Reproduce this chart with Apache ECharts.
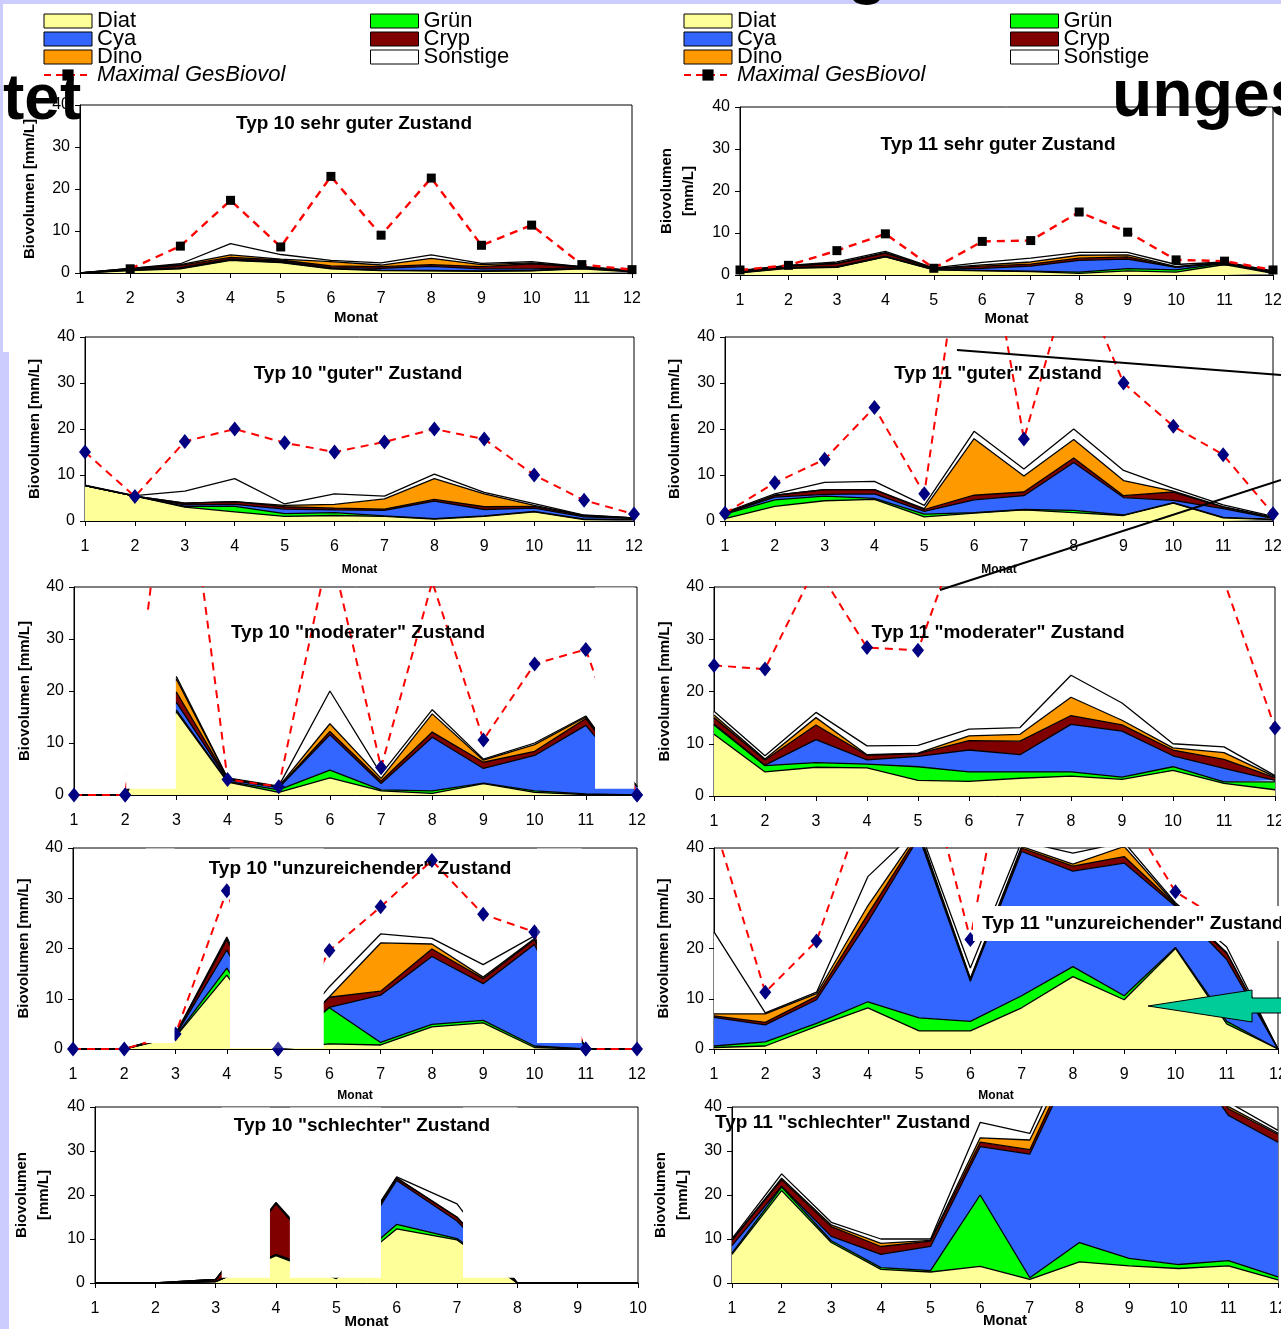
<!DOCTYPE html>
<html><head><meta charset="utf-8">
<script src="https://cdn.jsdelivr.net/npm/echarts@6/dist/echarts.min.js"></script>
<style>html,body{margin:0;padding:0;background:#fff}#c{width:1281px;height:1329px}</style>
</head><body><div id="c"></div>
<script>
// ---------- DATA ----------
const months12 = ['1','2','3','4','5','6','7','8','9','10','11','12'];
const months10 = ['1','2','3','4','5','6','7','8','9','10'];
const groupNames = ['Diat','Grün','Cya','Cryp','Dino','Sonstige'];
const maxName = 'Maximal GesBiovol';

// Typ 10 sehr guter Zustand
const A_diat  = [0,0.6,1.0,3.0,2.5,1.0,0.6,0.5,0.4,0.5,1.0,0.3];
const A_gruen = [0,0.1,0.1,0.1,0.1,0.1,0.1,0.1,0.1,0.1,0.1,0.1];
const A_cya   = [0,0.1,0.2,0.2,0.2,0.2,0.4,1.0,0.5,0.4,0.1,0.1];
const A_cryp  = [0,0.2,0.5,0.4,0.3,0.4,0.4,0.4,0.5,1.2,0.2,0.1];
const A_dino  = [0,0.1,0.2,0.6,0.2,1.0,0.4,1.5,0.5,0.2,0.1,0];
const A_sonst = [0,0,0.2,2.7,1.1,0.3,0.5,0.8,0.3,0.3,0,0];
const A_max   = [null,1.0,6.4,17.3,6.2,23.0,9.0,22.6,6.6,11.4,2.0,0.8];

// Typ 11 sehr guter Zustand
const B_diat  = [0.5,1.6,1.8,4.3,1.2,1.0,0.8,0.4,1.0,0.7,2.5,0.4];
const B_gruen = [0.1,0.1,0.1,0.1,0.1,0.1,0.1,0.3,0.5,0.5,0.3,0.1];
const B_cya   = [0.1,0.1,0.1,0.1,0.1,0.5,1.2,2.8,2.3,0.6,0.1,0.1];
const B_cryp  = [0.3,0.4,0.7,0.7,0.2,0.5,0.5,0.5,0.5,0.1,0.1,0.2];
const B_dino  = [0,0,0.1,0.1,0,0.3,0.5,0.7,0.5,0.1,0,0];
const B_sonst = [0.1,0.1,0.3,0.3,0.1,0.6,0.9,0.7,0.6,0.5,0.1,0.2];
const B_max   = [1.2,2.3,5.8,9.8,1.6,8.0,8.2,15.0,10.2,3.6,3.3,1.2];

// Typ 10 "guter" Zustand
const C_diat  = [7.7,5.4,3.0,2.0,1.0,1.2,1.0,0.4,1.0,2.0,0.3,0.3];
const C_gruen = [0,0,0.2,1.2,0.6,0.6,0.1,0.1,0.1,0.1,0.1,0.1];
const C_cya   = [0,0,0.3,0.4,1.0,0.6,1.2,3.8,1.4,0.7,0.5,0.2];
const C_cryp  = [0,0,0.4,0.6,0.5,0.4,0.3,0.4,0.6,0.4,0.2,0.1];
const C_dino  = [0,0,0,0,0.3,0.8,2.2,4.5,2.8,0.2,0.1,0];
const C_sonst = [0.1,0.1,2.6,5.0,0.3,2.3,0.6,1.0,0.3,0.4,0.1,0];
const C_max   = [15.0,5.3,17.3,20.0,17.0,15.0,17.2,20.0,17.8,10.0,4.5,1.5];

// Typ 11 "guter" Zustand
const D_diat  = [0.5,3.2,4.4,4.7,0.9,1.7,2.4,1.8,1.2,3.9,0.7,0.3];
const D_gruen = [1.0,1.4,1.0,0.2,0.6,0.1,0.1,0.5,0.1,0.1,0.1,0.1];
const D_cya   = [0.1,0.6,0.4,1.0,0.6,2.8,3.0,10.4,3.8,0.5,1.9,0.2];
const D_cryp  = [0.1,0.4,1.0,0.9,0.4,1.0,0.8,1.0,0.4,1.8,0.3,0.2];
const D_dino  = [0,0,0,0,0.2,12.3,3.5,4.0,3.3,0.2,0.1,0];
const D_sonst = [0.2,0.3,1.6,1.8,0.7,1.6,1.5,2.3,2.2,0.6,0.4,0.2];
const D_max   = [1.7,8.3,13.4,24.7,5.9,80,17.8,56,30.0,20.6,14.4,1.6];

// Typ 10 "moderater" Zustand
const E_diat  = [0,0,16.0,2.5,0.5,3.3,0.8,0.3,2.2,0.5,0.1,0];
const E_gruen = [0,0,0.3,0.1,0.5,1.5,0.2,0.5,0.1,0.3,0.1,0];
const E_cya   = [0,0,1.5,0.3,0.4,6.8,1.2,10.3,2.8,6.8,13.2,1.6];
const E_cryp  = [0,0,2.0,0.2,0.1,0.6,0.5,1.0,1.2,0.8,1.3,0];
const E_dino  = [0,0,2.5,0.1,0.1,1.5,0.5,3.5,0.4,1.3,0.3,0];
const E_sonst = [0,0,0.5,0.1,0.1,6.3,0.8,0.8,0.2,0.3,0.2,0];
const E_max   = [0,0,80,3.0,1.6,48,5.3,41,10.6,25.2,28,0];

// Typ 11 "moderater" Zustand
const F_diat  = [11.8,4.6,5.5,5.4,3.0,2.8,3.4,3.8,3.2,4.9,2.4,1.2];
const F_gruen = [1.8,1.2,0.9,0.7,2.6,1.8,1.2,0.8,0.4,0.7,0.3,1.5];
const F_cya   = [0.2,0.1,4.4,0.8,2.0,4.2,3.3,9.1,8.8,2.1,2.6,0.3];
const F_cryp  = [1.2,1.0,2.8,0.9,0.5,1.8,2.6,1.7,1.2,1.1,1.7,0.5];
const F_dino  = [0.5,0.2,1.4,0.1,0.1,0.9,1.3,3.5,0.9,0.4,1.3,0.2];
const F_sonst = [0.7,0.6,1.0,1.7,1.5,1.3,1.3,4.2,3.3,0.8,1.1,0.2];
const F_max   = [25.0,24.3,44,28.4,27.9,55,50,60,50,40.9,41.2,13.0];

// Typ 10 "unzureichender" Zustand
const G_diat  = [0,0,2.4,14.7,0,1.0,0.8,4.4,5.2,0.3,0,0];
const G_gruen = [0,0,0.1,1.4,0,7.2,0.5,0.5,0.5,0.3,0,0];
const G_cya   = [0,0,0.2,3.6,0,0.1,9.4,13.5,7.3,20.2,0,0];
const G_cryp  = [0,0,0.1,2.1,0,2.0,0.8,1.5,1.0,1.0,0,0];
const G_dino  = [0,0,0.1,0.2,0,0.1,9.6,1.0,0.3,0.2,0,0];
const G_sonst = [0,0,0.1,0.3,0,2.0,1.8,1.1,2.5,0.5,0,0];
const G_max   = [0,0,3.0,31.5,0,19.6,28.3,37.5,26.8,23.3,0,0];

// Typ 11 "unzureichender" Zustand
const H_diat  = [0.3,0.6,4.5,8.2,3.6,3.6,8.2,14.4,9.8,20.0,5.0,0];
const H_gruen = [0.3,0.8,0.6,1.2,2.6,1.9,2.4,2.0,0.8,0.2,0.5,0];
const H_cya   = [5.7,3.4,4.7,15.9,36,8.0,28.7,19.0,26.4,8.2,12.3,0];
const H_cryp  = [0.3,0.5,0.7,1.5,0.6,0.4,0.7,1.0,1.3,0.3,1.2,0];
const H_dino  = [0.4,1.7,0.5,1.7,0.5,0.2,0.3,0.4,2.0,0.1,0.2,0];
const H_sonst = [16.3,0.2,0.3,5.8,0.7,2.0,1.0,2.2,0.8,0.3,1.1,0];
const H_max   = [45,11.3,21.5,51,62,21.8,77,70,48,31.3,25,null];

// Typ 10 "schlechter" Zustand (months 1-10)
const I_diat  = [0,0,0.3,6.2,1.0,12.3,9.8,0,0,0];
const I_gruen = [0,0,0,0.2,0.5,1.0,0.3,0,0,0];
const I_cya   = [0,0,0,0.1,0.3,10.0,4.0,0,0,0];
const I_cryp  = [0,0,0.5,11.5,0.5,0.5,0.8,0,0,0];
const I_dino  = [0,0,0,0.1,0.2,0.1,0.1,0,0,0];
const I_sonst = [0,0,0,0.2,0.5,0.2,3.0,0,0,0];

// Typ 11 "schlechter" Zustand
const J_diat  = [6.5,21,9.2,3.1,2.5,3.8,0.8,4.8,3.9,3.3,3.9,0.7];
const J_gruen = [0.3,0.8,0.4,0.4,0.3,16.2,0.4,4.4,1.7,0.9,1.2,0.7];
const J_cya   = [1.7,0.2,1.0,3.0,5.5,11.0,28.1,44,48,50,33,30.6];
const J_cryp  = [1.2,1.5,2.2,1.8,1.2,1.0,1.0,1.5,1.5,1.5,1.5,1.8];
const J_dino  = [0.1,0.3,0.4,0.7,0.2,1.0,2.2,1.0,1.0,1.0,0.5,0.3];
const J_sonst = [0.3,1.0,0.6,1.0,0.3,3.5,1.5,3,3,3,1,0.6];

// ---------- PANELS ----------
const panels = [
 {id:'A', title:'Typ 10 sehr guter Zustand', months:months12, layers:[A_diat,A_gruen,A_cya,A_cryp,A_dino,A_sonst], max:A_max, marker:'square'},
 {id:'B', title:'Typ 11 sehr guter Zustand', months:months12, layers:[B_diat,B_gruen,B_cya,B_cryp,B_dino,B_sonst], max:B_max, marker:'square'},
 {id:'C', title:'Typ 10 "guter" Zustand', months:months12, layers:[C_diat,C_gruen,C_cya,C_cryp,C_dino,C_sonst], max:C_max, marker:'diamond'},
 {id:'D', title:'Typ 11 "guter" Zustand', months:months12, layers:[D_diat,D_gruen,D_cya,D_cryp,D_dino,D_sonst], max:D_max, marker:'diamond'},
 {id:'E', title:'Typ 10 "moderater" Zustand', months:months12, layers:[E_diat,E_gruen,E_cya,E_cryp,E_dino,E_sonst], max:E_max, marker:'diamond', pins:['2','12']},
 {id:'F', title:'Typ 11 "moderater" Zustand', months:months12, layers:[F_diat,F_gruen,F_cya,F_cryp,F_dino,F_sonst], max:F_max, marker:'diamond'},
 {id:'G', title:'Typ 10 "unzureichender" Zustand', months:months12, layers:[G_diat,G_gruen,G_cya,G_cryp,G_dino,G_sonst], max:G_max, marker:'diamond', pins:['5','10','11']},
 {id:'H', title:'Typ 11 "unzureichender" Zustand', months:months12, layers:[H_diat,H_gruen,H_cya,H_cryp,H_dino,H_sonst], max:H_max, marker:'diamond'},
 {id:'I', title:'Typ 10 "schlechter" Zustand', months:months10, layers:[I_diat,I_gruen,I_cya,I_cryp,I_dino,I_sonst], max:null},
 {id:'J', title:'Typ 11 "schlechter" Zustand', months:months12, layers:[J_diat,J_gruen,J_cya,J_cryp,J_dino,J_sonst], max:null}
];

// ---------- LAYOUT / STYLE ----------
const FONT = '"Liberation Sans", Arial, sans-serif';
const fills = ['#ffff99','#00ff00','#3366ff','#800000','#ff9900','#ffffff'];
const yOne = 'Biovolumen [mm/L]';
const yTwo = 'Biovolumen\n[mm/L]';
const layout = {
 A:{left:80, top:105, width:552, height:168, yName:yOne, yGap:39, xName:true, xGap:37, xSize:15, tx:354, ty:114},
 B:{left:740, top:107, width:533, height:168, yName:yTwo, yGap:40, xName:true, xGap:36, xSize:15, tx:998, ty:135},
 C:{left:85, top:337, width:549, height:184, yName:yOne, yGap:39, xName:true, xGap:43, xSize:12, tx:358, ty:364},
 D:{left:725, top:337, width:548, height:184, yName:yOne, yGap:39, xName:true, xGap:43, xSize:12, tx:998, ty:364},
 E:{left:74, top:587, width:563, height:208, yName:yOne, yGap:38, xName:false, tx:358, ty:623},
 F:{left:714, top:587, width:561, height:209, yName:yOne, yGap:38, xName:false, tx:998, ty:623},
 G:{left:73, top:848, width:564, height:201, yName:yOne, yGap:38, xName:true, xGap:41, xSize:12, tx:360, ty:859},
 H:{left:714, top:848, width:564, height:201, yName:yOne, yGap:39, xName:true, xGap:41, xSize:12, tx:973, ty:906, boxed:true},
 I:{left:95, top:1107, width:543, height:176, yName:yTwo, yGap:40, xName:true, xGap:31, xSize:15, tx:362, ty:1116},
 J:{left:732, top:1107, width:546, height:176, yName:yTwo, yGap:38, xName:true, xGap:30, xSize:15, tx:715, ty:1113, leftAlign:true}
};
// white cover patches of the original slide, in data space (month position, value)
const masks = [
 {panel:'E', x0:2.02, x1:2.99, y0:1.2, y1:35.5},
 {panel:'E', x0:11.18, x1:11.95, y0:1.2, y1:39.9},
 {panel:'G', x0:2.42, x1:2.98, y0:1.2, y1:39.9},
 {panel:'G', x0:4.06, x1:5.89, y0:0.15, y1:39.9},
 {panel:'G', x0:10.05, x1:10.92, y0:1.2, y1:39.9},
 {panel:'I', x0:3.1, x1:3.9, y0:1.2, y1:39.9},
 {panel:'I', x0:4.23, x1:5.74, y0:1.2, y1:39.9},
 {panel:'I', x0:7.1, x1:8.0, y0:1.2, y1:39.9}
];

const grids=[], xAxes=[], yAxes=[], series=[], titles=[];
const panelIndex = {};
panels.forEach((p,i)=>{
  panelIndex[p.id]=i;
  const L = layout[p.id];
  grids.push({left:L.left, top:L.top, width:L.width, height:L.height, show:true, borderColor:'#000', borderWidth:1, backgroundColor:'transparent', containLabel:false, outerBoundsMode:'none'});
  xAxes.push({type:'category', gridIndex:i, data:p.months, boundaryGap:false,
    name: L.xName ? 'Monat' : '', nameLocation:'middle', nameGap:L.xGap||30, nameMoveOverlap:false,
    nameTextStyle:{fontSize:L.xSize||12, fontWeight:'bold', color:'#000', fontFamily:FONT},
    axisLine:{show:true, onZero:false, lineStyle:{color:'#000', width:1}},
    axisTick:{show:true, length:5, inside:false, interval:0, lineStyle:{color:'#000'}},
    axisLabel:{fontSize:16, color:'#000', margin:18, interval:0, fontFamily:FONT, hideOverlap:false},
    splitLine:{show:false}});
  yAxes.push({type:'value', gridIndex:i, min:0, max:40, interval:10,
    name:L.yName, nameLocation:'middle', nameGap:L.yGap, nameRotate:90, nameMoveOverlap:false,
    nameTextStyle:{fontSize:15, fontWeight:'bold', color:'#000', lineHeight:22, fontFamily:FONT},
    axisLine:{show:true, onZero:false, lineStyle:{color:'#000', width:1}},
    axisTick:{show:true, length:5, inside:false, lineStyle:{color:'#000'}},
    axisLabel:{fontSize:16, color:'#000', margin:10, fontFamily:FONT},
    splitLine:{show:false}});
  p.layers.forEach((arr,k)=>{
    series.push({type:'line', name:groupNames[k], xAxisIndex:i, yAxisIndex:i, stack:'st'+p.id,
      data:arr, symbol:'none', showSymbol:false, silent:true, clip:true, z:2,
      lineStyle:{color:'#000', width:1.3}, itemStyle:{color:fills[k]}, areaStyle:{color:fills[k], opacity:1},
      emphasis:{disabled:true}, animation:false});
  });
  if (p.max) {
    const sq = p.marker==='square';
    series.push({type:'line', name:maxName, xAxisIndex:i, yAxisIndex:i,
      data:p.max, connectNulls:false, clip:true, z:5, silent:true,
      symbol: sq ? 'rect' : 'diamond', symbolSize: sq ? 9 : [12,15], showSymbol:true, showAllSymbol:true,
      itemStyle:{color: sq ? '#000000' : '#000080'},
      lineStyle:{color:'#ff0000', width: sq ? 2.4 : 2, type:[8,6]}, emphasis:{disabled:true}, animation:false});
    if (p.pins) {
      series.push({type:'scatter', name:maxName, xAxisIndex:i, yAxisIndex:i,
        data:p.pins.map(m=>[m, p.max[p.months.indexOf(m)]]), symbol:'diamond', symbolSize:[12,15],
        itemStyle:{color:'#000080'}, z:100, silent:true, animation:false});
    }
  }
  const t = {text:p.title, left:L.tx, top:L.ty, padding:0, z:80,
    textStyle:{fontSize:19, fontWeight:'bold', color:'#000', fontFamily:FONT}};
  if (L.boxed) { t.backgroundColor = '#ffffff'; t.padding = [8,10,8,9]; }
  else if (!L.leftAlign) { t.textAlign = 'center'; }
  titles.push(t);
});

function legendItem(name, k) {
  return {name:name, icon:'rect', itemStyle:{color:fills[k], borderColor:'#000', borderWidth:1}};
}
const legendBase = {orient:'vertical', itemWidth:48, itemHeight:14, itemGap:-4, selectedMode:false, padding:0, z:90,
  textStyle:{fontSize:22, lineHeight:18, color:'#000', fontFamily:FONT}};
const legendCol1 = [legendItem('Diat',0), legendItem('Cya',2), legendItem('Dino',4),
  {name:maxName, textStyle:{fontStyle:'italic'}, itemStyle:{color:'#000'}, lineStyle:{color:'#ff0000', width:2, type:[7,5]}}];
const legendCol2 = [legendItem('Grün',1), legendItem('Cryp',3), legendItem('Sonstige',5)];
const legends = [
  Object.assign({}, legendBase, {id:'l1', left:43, top:10, data:legendCol1}),
  Object.assign({}, legendBase, {id:'l2', left:370, top:10, data:legendCol2}),
  Object.assign({}, legendBase, {id:'l3', left:683, top:10, data:legendCol1}),
  Object.assign({}, legendBase, {id:'l4', left:1010, top:10, data:legendCol2})
];

const decor = [
  {type:'rect', id:'bandTop', shape:{x:0,y:0,width:1281,height:4}, style:{fill:'#ccccff'}, z:95, silent:true},
  {type:'rect', id:'bandL1', shape:{x:0,y:0,width:3,height:352}, style:{fill:'#ccccff'}, z:95, silent:true},
  {type:'rect', id:'bandL2', shape:{x:0,y:352,width:9,height:977}, style:{fill:'#ccccff'}, z:95, silent:true},
  {type:'text', id:'gTxt', x:847, y:-27, style:{text:'g', fontSize:66, fontWeight:'bold', fontFamily:FONT, fill:'#000', verticalAlign:'middle'}, z:96, silent:true},
  {type:'text', id:'tet', x:3, y:101, style:{text:'tet', fontSize:64, fontWeight:'bold', fontFamily:FONT, fill:'#000', verticalAlign:'middle'}, z:96, silent:true},
  {type:'text', id:'unges', x:1112, y:98, style:{text:'unges', fontSize:66, fontWeight:'bold', fontFamily:FONT, fill:'#000', verticalAlign:'middle'}, z:96, silent:true},
  {type:'line', id:'ln1', shape:{x1:957,y1:350,x2:1281,y2:375}, style:{stroke:'#000', lineWidth:2}, z:60, silent:true},
  {type:'line', id:'ln2', shape:{x1:940,y1:590,x2:1281,y2:480}, style:{stroke:'#000', lineWidth:2}, z:60, silent:true},
  {type:'polygon', id:'arrow', shape:{points:[[1148,1006],[1252,990],[1252,998],[1290,998],[1290,1013],[1252,1013],[1252,1022]]},
    style:{fill:'#00cc99', stroke:'#000', lineWidth:1}, z:60, silent:true}
];

const option = {
  animation:false,
  backgroundColor:'#ffffff',
  textStyle:{fontFamily:FONT},
  title:titles, legend:legends, grid:grids, xAxis:xAxes, yAxis:yAxes, series:series,
  graphic:{elements:decor}
};

const chart = echarts.init(document.getElementById('c'), null, {renderer:'canvas', width:1281, height:1329});
chart.setOption(option);

// convert a fractional month position to pixels via the category axis
function monthPx(gi, pos, val) {
  const lo = Math.floor(pos), hi = Math.ceil(pos);
  const a = chart.convertToPixel({gridIndex:gi}, [lo-1, val]);
  const b = chart.convertToPixel({gridIndex:gi}, [hi-1, val]);
  const f = pos - lo;
  return [a[0] + (b[0]-a[0])*f, a[1]];
}
const maskEls = masks.map((mk,j)=>{
  const gi = panelIndex[mk.panel];
  const p0 = monthPx(gi, mk.x0, mk.y1);
  const p1 = monthPx(gi, mk.x1, mk.y0);
  return {type:'rect', id:'mask'+j, shape:{x:p0[0], y:p0[1], width:p1[0]-p0[0], height:p1[1]-p0[1]}, style:{fill:'#ffffff'}, z:50, silent:true};
});
chart.setOption({graphic:{elements:maskEls}});
</script>
</body></html>
